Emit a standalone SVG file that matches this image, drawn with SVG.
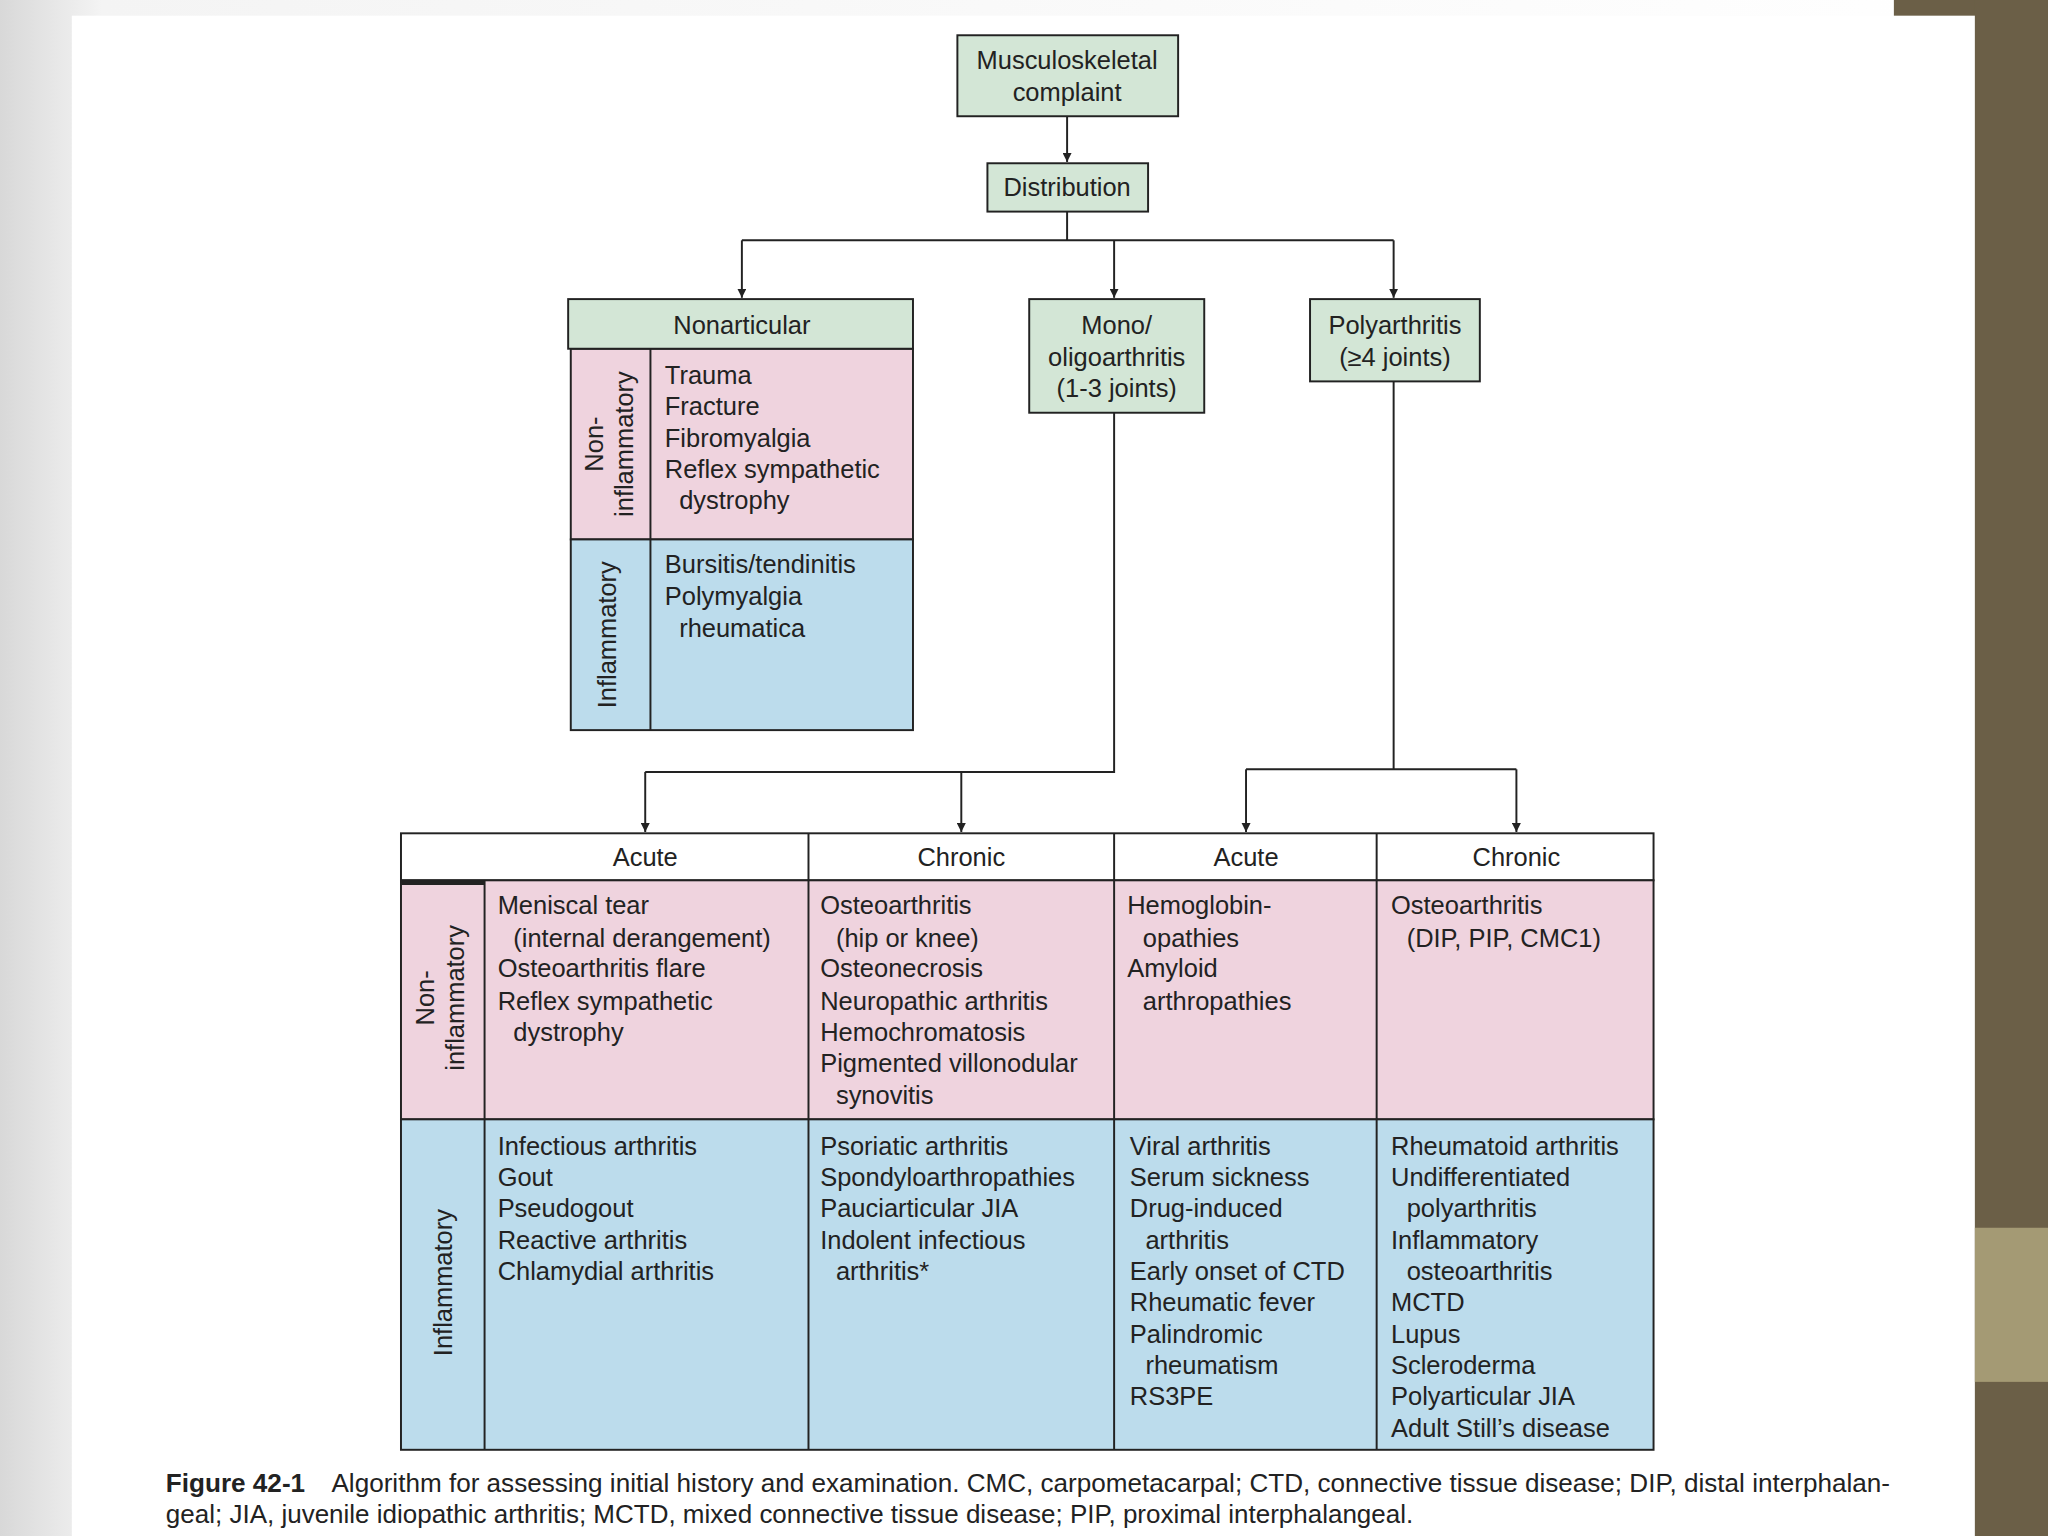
<svg xmlns="http://www.w3.org/2000/svg" width="2048" height="1536" viewBox="0 0 2048 1536">
<defs>
<linearGradient id="bg" x1="0" x2="1" y1="0" y2="0"><stop offset="0" stop-color="#d8d8d8"/><stop offset="0.05" stop-color="#f4f4f4"/><stop offset="1" stop-color="#ffffff"/></linearGradient>
<marker id="ah" viewBox="0 0 10 10" refX="10" refY="5" markerWidth="7" markerHeight="7" orient="auto" markerUnits="userSpaceOnUse"><path d="M0,0 L10,5 L0,10 z" fill="#222"/></marker>
<style>
text{font-family:"Liberation Sans",Arial,sans-serif;font-size:19.5px;fill:#222}
.g{fill:#d3e6d6;stroke:#222;stroke-width:1.5}
.p{fill:#efd3de;stroke:#222;stroke-width:1.5}
.b{fill:#bcdcec;stroke:#222;stroke-width:1.5}
.w{fill:#fff;stroke:#222;stroke-width:1.5}
.c{text-anchor:middle}
.ln{fill:none;stroke:#222;stroke-width:1.5}
.cap{font-size:19.8px}
</style>
</defs>
<rect width="2048" height="1536" fill="url(#bg)"/>
<g transform="scale(1.30612)">
<rect x="55" y="12" width="1457" height="1164" fill="#fff"/>
<rect x="1450" y="0" width="118" height="12" fill="#6b5f47"/>
<rect x="1512" y="0" width="56" height="1176" fill="#6b5f47"/>
<rect x="1512" y="940" width="56" height="118" fill="#a49a74"/>

<g id="connectors">
<path class="ln" d="M817,89 V124" marker-end="url(#ah)"/>
<path class="ln" d="M817,162 V184 M568,184 H1067"/>
<path class="ln" d="M568,184 V228" marker-end="url(#ah)"/>
<path class="ln" d="M853,184 V228" marker-end="url(#ah)"/>
<path class="ln" d="M1067,184 V228" marker-end="url(#ah)"/>
<path class="ln" d="M853,316 V591 H494"/>
<path class="ln" d="M494,591 V637" marker-end="url(#ah)"/>
<path class="ln" d="M736,591 V637" marker-end="url(#ah)"/>
<path class="ln" d="M1067,292 V589 M954,589 H1161"/>
<path class="ln" d="M954,589 V637" marker-end="url(#ah)"/>
<path class="ln" d="M1161,589 V637" marker-end="url(#ah)"/>
</g>

<g id="musculoskeletal">
<rect class="g" x="733" y="27" width="169" height="62"/>
<text class="c" x="817" y="53">Musculoskeletal</text>
<text class="c" x="817" y="77">complaint</text>
</g>
<g id="distribution">
<rect class="g" x="756" y="125" width="123" height="37"/>
<text class="c" x="817" y="150">Distribution</text>
</g>

<g id="nonarticular">
<rect class="p" x="437" y="267" width="262" height="146"/>
<rect class="b" x="437" y="413" width="262" height="146"/>
<line class="ln" x1="498" y1="267" x2="498" y2="559"/>
<rect class="g" x="435" y="229" width="264" height="38"/>
<text class="c" x="568" y="256">Nonarticular</text>
<text class="c" transform="translate(462,340) rotate(-90)">Non-</text>
<text class="c" transform="translate(485,340) rotate(-90)">inflammatory</text>
<text class="c" transform="translate(472,486) rotate(-90)">Inflammatory</text>
<text x="509" y="294">Trauma</text>
<text x="509" y="318">Fracture</text>
<text x="509" y="342">Fibromyalgia</text>
<text x="509" y="366">Reflex sympathetic</text>
<text x="520" y="390">dystrophy</text>
<text x="509" y="439">Bursitis/tendinitis</text>
<text x="509" y="463">Polymyalgia</text>
<text x="520" y="488">rheumatica</text>
</g>

<g id="mono">
<rect class="g" x="788" y="229" width="134" height="87"/>
<text class="c" x="855" y="256">Mono/</text>
<text class="c" x="855" y="280">oligoarthritis</text>
<text class="c" x="855" y="304">(1-3 joints)</text>
</g>
<g id="poly">
<rect class="g" x="1003" y="229" width="130" height="63"/>
<text class="c" x="1068" y="256">Polyarthritis</text>
<text class="c" x="1068" y="280">(≥4 joints)</text>
</g>

<g id="table">
<rect class="w" x="307" y="638" width="959" height="36"/>
<rect class="p" x="307" y="674" width="959" height="183"/>
<rect class="b" x="307" y="857" width="959" height="253"/>
<path class="ln" d="M371,674 V1110 M619,638 V1110 M853,638 V1110 M1054,638 V1110"/>
<path d="M307,676 H371" stroke="#222" stroke-width="3"/>
<text class="c" x="494" y="663">Acute</text>
<text class="c" x="736" y="663">Chronic</text>
<text class="c" x="954" y="663">Acute</text>
<text class="c" x="1161" y="663">Chronic</text>
<text class="c" transform="translate(332,764) rotate(-90)">Non-</text>
<text class="c" transform="translate(355,764) rotate(-90)">inflammatory</text>
<text class="c" transform="translate(346,982) rotate(-90)">Inflammatory</text>

<text x="381" y="700">Meniscal tear</text>
<text x="393" y="725">(internal derangement)</text>
<text x="381" y="748">Osteoarthritis flare</text>
<text x="381" y="773">Reflex sympathetic</text>
<text x="393" y="797">dystrophy</text>

<text x="628" y="700">Osteoarthritis</text>
<text x="640" y="725">(hip or knee)</text>
<text x="628" y="748">Osteonecrosis</text>
<text x="628" y="773">Neuropathic arthritis</text>
<text x="628" y="797">Hemochromatosis</text>
<text x="628" y="821">Pigmented villonodular</text>
<text x="640" y="845">synovitis</text>

<text x="863" y="700">Hemoglobin-</text>
<text x="875" y="725">opathies</text>
<text x="863" y="748">Amyloid</text>
<text x="875" y="773">arthropathies</text>

<text x="1065" y="700">Osteoarthritis</text>
<text x="1077" y="725">(DIP, PIP, CMC1)</text>

<text x="381" y="884">Infectious arthritis</text>
<text x="381" y="908">Gout</text>
<text x="381" y="932">Pseudogout</text>
<text x="381" y="956">Reactive arthritis</text>
<text x="381" y="980">Chlamydial arthritis</text>

<text x="628" y="884">Psoriatic arthritis</text>
<text x="628" y="908">Spondyloarthropathies</text>
<text x="628" y="932">Pauciarticular JIA</text>
<text x="628" y="956">Indolent infectious</text>
<text x="640" y="980">arthritis*</text>

<text x="865" y="884">Viral arthritis</text>
<text x="865" y="908">Serum sickness</text>
<text x="865" y="932">Drug-induced</text>
<text x="877" y="956">arthritis</text>
<text x="865" y="980">Early onset of CTD</text>
<text x="865" y="1004">Rheumatic fever</text>
<text x="865" y="1028">Palindromic</text>
<text x="877" y="1052">rheumatism</text>
<text x="865" y="1076">RS3PE</text>

<text x="1065" y="884">Rheumatoid arthritis</text>
<text x="1065" y="908">Undifferentiated</text>
<text x="1077" y="932">polyarthritis</text>
<text x="1065" y="956">Inflammatory</text>
<text x="1077" y="980">osteoarthritis</text>
<text x="1065" y="1004">MCTD</text>
<text x="1065" y="1028">Lupus</text>
<text x="1065" y="1052">Scleroderma</text>
<text x="1065" y="1076">Polyarticular JIA</text>
<text x="1065" y="1100">Adult Still’s disease</text>
</g>

<text class="cap" x="127" y="1142" textLength="1320" lengthAdjust="spacingAndGlyphs"><tspan font-weight="bold">Figure 42-1</tspan><tspan dx="20">Algorithm for assessing initial history and examination. CMC, carpometacarpal; CTD, connective tissue disease; DIP, distal interphalan-</tspan></text>
<text class="cap" x="127" y="1166" textLength="955" lengthAdjust="spacingAndGlyphs">geal; JIA, juvenile idiopathic arthritis; MCTD, mixed connective tissue disease; PIP, proximal interphalangeal.</text>
</g>
</svg>
